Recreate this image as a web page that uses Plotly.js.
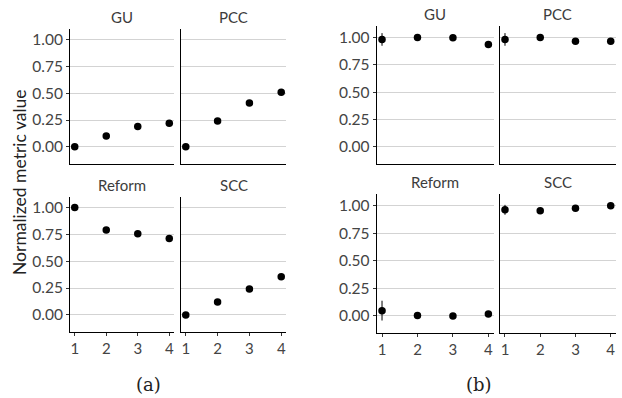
<!DOCTYPE html>
<html>
<head>
<meta charset="utf-8">
<script src="https://cdn.plot.ly/plotly-3.0.1.min.js"></script>
<style>html,body{margin:0;padding:0;background:#fff;}#chart{width:622px;height:398px;}</style>
</head>
<body>
<div id="chart"></div>
<script>
// ---- data ----
var steps = [1, 2, 3, 4];
var panelNames = ["GU", "PCC", "Reform", "SCC"];
var yTicks = [0, 0.25, 0.5, 0.75, 1];
var yTickText = ["0.00", "0.25", "0.50", "0.75", "1.00"];

// chart (a)
var aGU     = [0.00, 0.10, 0.19, 0.22];
var aPCC    = [0.00, 0.24, 0.41, 0.51];
var aReform = [1.00, 0.79, 0.755, 0.71];
var aSCC    = [0.00, 0.12, 0.24, 0.355];

// chart (b)
var bGU     = [0.982, 1.00, 0.997, 0.936];
var bPCC    = [0.982, 1.00, 0.966, 0.966];
var bReform = [0.048, 0.004, 0.00, 0.018];
var bSCC    = [0.964, 0.955, 0.979, 1.00];
// error bar half-widths for (b)
var bGUErr     = [0.058, 0, 0, 0];
var bPCCErr    = [0.058, 0, 0, 0];
var bReformErr = [0.09, 0, 0, 0];
var bSCCErr    = [0.045, 0, 0, 0];

// ---- layout geometry (pixels) ----
var W = 622, H = 398;
function px(x) { return x / W; }
function py(y) { return 1 - y / H; }

var panels = [
  // chart a
  {name: panelNames[0], y: aGU,     err: null, x0: 70,    x1: 174,   y0: 29.3,  y1: 164,   left: true,  bottom: false, range: [-0.162, 1.10]},
  {name: panelNames[1], y: aPCC,    err: null, x0: 181,   x1: 286,   y0: 29.3,  y1: 164,   left: false, bottom: false, range: [-0.162, 1.10]},
  {name: panelNames[2], y: aReform, err: null, x0: 70,    x1: 174,   y0: 196.7, y1: 332.3, left: true,  bottom: true,  range: [-0.162, 1.10]},
  {name: panelNames[3], y: aSCC,    err: null, x0: 181,   x1: 286,   y0: 196.7, y1: 332.3, left: false, bottom: true,  range: [-0.162, 1.10]},
  // chart b
  {name: panelNames[0], y: bGU,     err: bGUErr,     x0: 376.7, x1: 493.7, y0: 26,    y1: 164,   left: true,  bottom: false, range: [-0.158, 1.105]},
  {name: panelNames[1], y: bPCC,    err: bPCCErr,    x0: 499.7, x1: 616,   y0: 26,    y1: 164,   left: false, bottom: false, range: [-0.158, 1.105]},
  {name: panelNames[2], y: bReform, err: bReformErr, x0: 376.7, x1: 493.7, y0: 194.3, y1: 333.3, left: true,  bottom: true,  range: [-0.158, 1.105]},
  {name: panelNames[3], y: bSCC,    err: bSCCErr,    x0: 499.7, x1: 616,   y0: 194.3, y1: 333.3, left: false, bottom: true,  range: [-0.158, 1.105]}
];

var FONT = "Lato, 'Open Sans', sans-serif";
var SERIF = "'DejaVu Serif', 'Liberation Serif', serif";
var traces = [];
var layout = {
  width: W, height: H,
  margin: {l: 0, r: 0, t: 0, b: 0},
  paper_bgcolor: "#fff", plot_bgcolor: "#fff",
  showlegend: false,
  font: {family: FONT, size: 12, color: "#4d4d4d"},
  annotations: []
};

panels.forEach(function (p, i) {
  var n = i + 1;
  var xa = "x" + (n === 1 ? "" : n), ya = "y" + (n === 1 ? "" : n);
  var tr = {
    type: "scatter", mode: "markers",
    x: steps, y: p.y, xaxis: xa, yaxis: ya,
    marker: {color: "#000", size: 7.5},
    hoverinfo: "none"
  };
  if (p.err) {
    tr.error_y = {type: "data", array: p.err, visible: true, color: "#000", thickness: 1, width: 0};
  }
  traces.push(tr);

  layout["xaxis" + (n === 1 ? "" : n)] = {
    domain: [px(p.x0), px(p.x1)], anchor: ya,
    range: [0.85, 4.15], tickvals: steps, ticktext: ["1", "2", "3", "4"],
    showticklabels: p.bottom, ticks: p.bottom ? "outside" : "",
    ticklen: 3, tickcolor: "#333", tickwidth: 1,
    tickfont: {family: FONT, size: 15, color: "#444"},
    showline: true, linecolor: "#000", linewidth: 1,
    showgrid: false, zeroline: false, fixedrange: true
  };
  layout["yaxis" + (n === 1 ? "" : n)] = {
    domain: [py(p.y1), py(p.y0)], anchor: xa,
    range: p.range, tickvals: yTicks, ticktext: yTickText,
    showticklabels: p.left, ticks: p.left ? "outside" : "",
    ticklen: 3, tickcolor: "#333", tickwidth: 1,
    tickfont: {family: FONT, size: 15.5, color: "#444"},
    showline: true, linecolor: "#000", linewidth: 1,
    showgrid: true, gridcolor: "#d3d3d3", gridwidth: 1,
    zeroline: false, fixedrange: true
  };
  layout.annotations.push({
    text: p.name, xref: "paper", yref: "paper",
    x: px((p.x0 + p.x1) / 2), y: py(p.y0 - 12),
    xanchor: "center", yanchor: "middle", showarrow: false,
    font: {family: FONT, size: 15, color: "#3c3c3c"}
  });
});

// y axis title for (a)
layout.annotations.push({
  text: "Normalized metric value", xref: "paper", yref: "paper",
  x: px(19), y: py(182), textangle: -90, xanchor: "center", yanchor: "middle",
  showarrow: false, font: {family: FONT, size: 17.5, color: "#222"}
});
// captions
layout.annotations.push({
  text: "(a)", xref: "paper", yref: "paper", x: px(148), y: py(384),
  xanchor: "center", yanchor: "middle", showarrow: false,
  font: {family: SERIF, size: 18, color: "#222"}
});
layout.annotations.push({
  text: "(b)", xref: "paper", yref: "paper", x: px(479), y: py(384),
  xanchor: "center", yanchor: "middle", showarrow: false,
  font: {family: SERIF, size: 18, color: "#222"}
});

Plotly.newPlot("chart", traces, layout, {displayModeBar: false, staticPlot: true});
</script>
</body>
</html>
